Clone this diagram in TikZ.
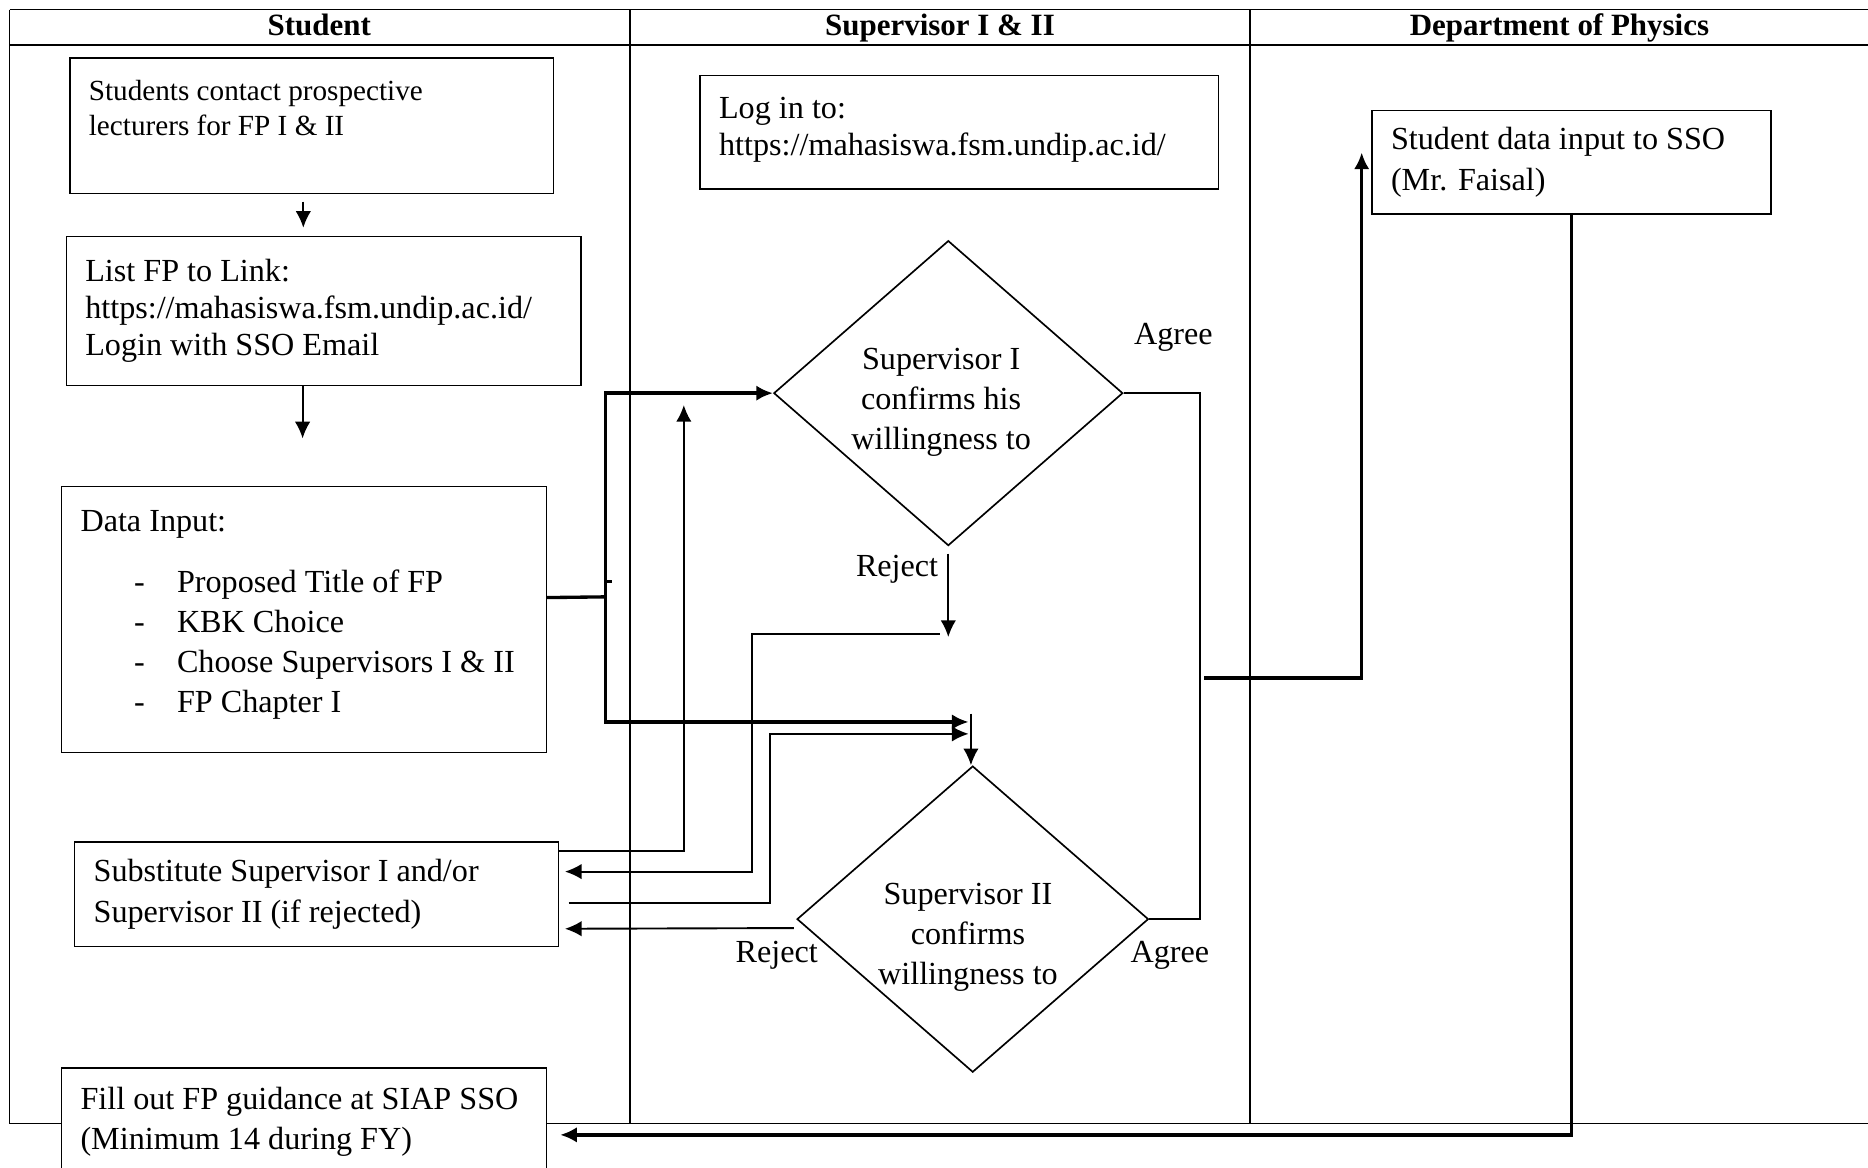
\documentclass[tikz,border=0pt]{standalone}
\usepackage{fontspec}
\setmainfont{Liberation Serif}
\usepackage{tikz}
\usetikzlibrary{arrows.meta}
\usetikzlibrary{shapes.geometric}
\tikzstyle{box} = [rectangle, draw=black, line width=1.2pt, fill=white, anchor=north west, align=flush left, inner xsep=16pt, inner ysep=0pt]
\tikzstyle{dec} = [diamond, draw=black, line width=1.4pt, fill=white, inner sep=0pt]
\tikzstyle{dectext} = [align=center, font=\fontsize{27pt}{33.5pt}\selectfont]
\tikzstyle{lane} = [line width=1.5pt]
\tikzstyle{con} = [line width=1.6pt]
\tikzstyle{thk} = [line width=2.8pt]
\tikzstyle{arr} = [-{Latex[length=14pt,width=13pt]}]
\tikzstyle{hd} = [anchor=base, font=\fontsize{26pt}{30pt}\selectfont\bfseries]
\newcommand{\fpitem}[1]{\hspace*{45pt}\makebox[36pt][l]{-}#1}

\begin{document}
\begin{tikzpicture}[x=1pt, y=-1pt, font=\fontsize{27pt}{31pt}\selectfont]
\useasboundingbox (0,0) rectangle (1568,980);
% swimlanes
\draw[lane] (8,8) -- (1568,8);
\draw[lane] (8,38) -- (1568,38);
\draw[lane] (8,8) -- (8,943) -- (1568,943);
\draw[lane] (529,8) -- (529,943);
\draw[lane] (1049,8) -- (1049,943);
\node[hd] (hstud) at (268,30) {Student};
\node[hd] (hsup) at (789,30) {Supervisor I \& II};
\node[hd] (hdep) at (1309,30) {Department of Physics};

% student lane
\node[box, text width=374pt, minimum height=114pt, font=\fontsize{24.5pt}{30pt}\selectfont] (contact) at (58,48) {Students contact prospective\\ lecturers for FP I \& II\\ \mbox{}};
\node[box, text width=400pt, minimum height=125pt] (list) at (55,198) {List FP to Link:\\ https://mahasiswa.fsm.undip.ac.id/\\ Login with SSO Email\\[-25pt] \mbox{}};
\node[box, text width=375pt, minimum height=223pt] (datain) at (51,408) {Data Input:\\[20pt] \fpitem{Proposed Title of FP}\\[2.5pt] \fpitem{KBK Choice}\\[2.5pt] \fpitem{Choose Supervisors I \& II}\\[2.5pt] \fpitem{FP Chapter I}\\[-17pt] \mbox{}};
\node[box, text width=374pt, minimum height=88pt, font=\fontsize{27pt}{34pt}\selectfont] (subst) at (62,706) {Substitute Supervisor I and/or\\ Supervisor II (if rejected)};
\node[box, text width=375pt, minimum height=92pt, font=\fontsize{27pt}{34pt}\selectfont] (fill) at (51,896) {Fill out FP guidance at SIAP SSO\\ (Minimum 14 during FY)\\[-26pt] \mbox{}};

% supervisor lane
\node[box, text width=403pt, minimum height=95pt] (login) at (587,63) {Log in to:\\ https://mahasiswa.fsm.undip.ac.id/\\[-21pt] \mbox{}};
\node[dec, minimum width=293pt, minimum height=256pt, label={[dectext, xshift=-6pt, yshift=-8pt]center:{Supervisor I\\ confirms his\\ willingness to}}] (sup1) at (796,330) {};
\node[dec, minimum width=295pt, minimum height=257pt, label={[dectext, xshift=-4pt, yshift=-15pt]center:{Supervisor II\\ confirms\\ willingness to}}] (sup2) at (816.5,771.5) {};
\node (agree1) at (985,283) {Agree};
\node (reject1) at (753,478) {Reject};
\node (reject2) at (652,802) {Reject};
\node (agree2) at (982,802) {Agree};

% department lane
\node[box, text width=303pt, minimum height=87pt, font=\fontsize{27pt}{35pt}\selectfont] (sso) at (1151,92) {Student data input to SSO\\ (Mr. Faisal)};

% connectors
\coordinate (gap) at (254,368);
\coordinate (split) at (508,501);
\coordinate (tick) at (508,488);
\coordinate (in2) at (813,606);
\coordinate (in2b) at (813,616);
\coordinate (join2) at (815,599);
\coordinate (up1) at (574,340);
\coordinate (rej1) at (789,532);
\coordinate (agr) at (1011,569);
\draw[con,arr] ([xshift=-7pt,yshift=-6pt]contact.south) -- ++(0,22);
\draw[con,arr] (list.south -| gap) -- (gap);
\draw[thk] ([yshift=18.5pt]datain.east) -- (split);
\draw[thk] (tick) -- ++(6,0);
\draw[thk,arr] (split) |- (sup1.west);
\draw[thk,arr] (split) |- (in2);
\draw[con,arr] ([xshift=8pt,yshift=-7pt]subst.east) -- ++(169,0) |- (in2b);
\draw[con,arr] (join2) -- (join2 |- sup2.north);
\draw[con,arr] ([yshift=-8pt]subst.north east) -| (up1);
\draw[con,arr] ([yshift=-6pt]sup1.south) -- ++(0,70);
\draw[con,arr] (rej1) -- ++(-158,0) |- ([xshift=5pt,yshift=19pt]subst.east);
\draw[con,arr] ([xshift=-2pt,yshift=-7.5pt]sup2.west) -- ([xshift=5pt,yshift=-29pt]subst.east);
\draw[con] (sup1.east) -- ++(64,0) |- (sup2.east);
\draw[thk,arr] (agr) -| ([xshift=-8pt,yshift=-36pt]sso.north west);
\draw[thk,arr] (sso.south) |- ([xshift=11pt,yshift=-10pt]fill.east);
\end{tikzpicture}
\end{document}
